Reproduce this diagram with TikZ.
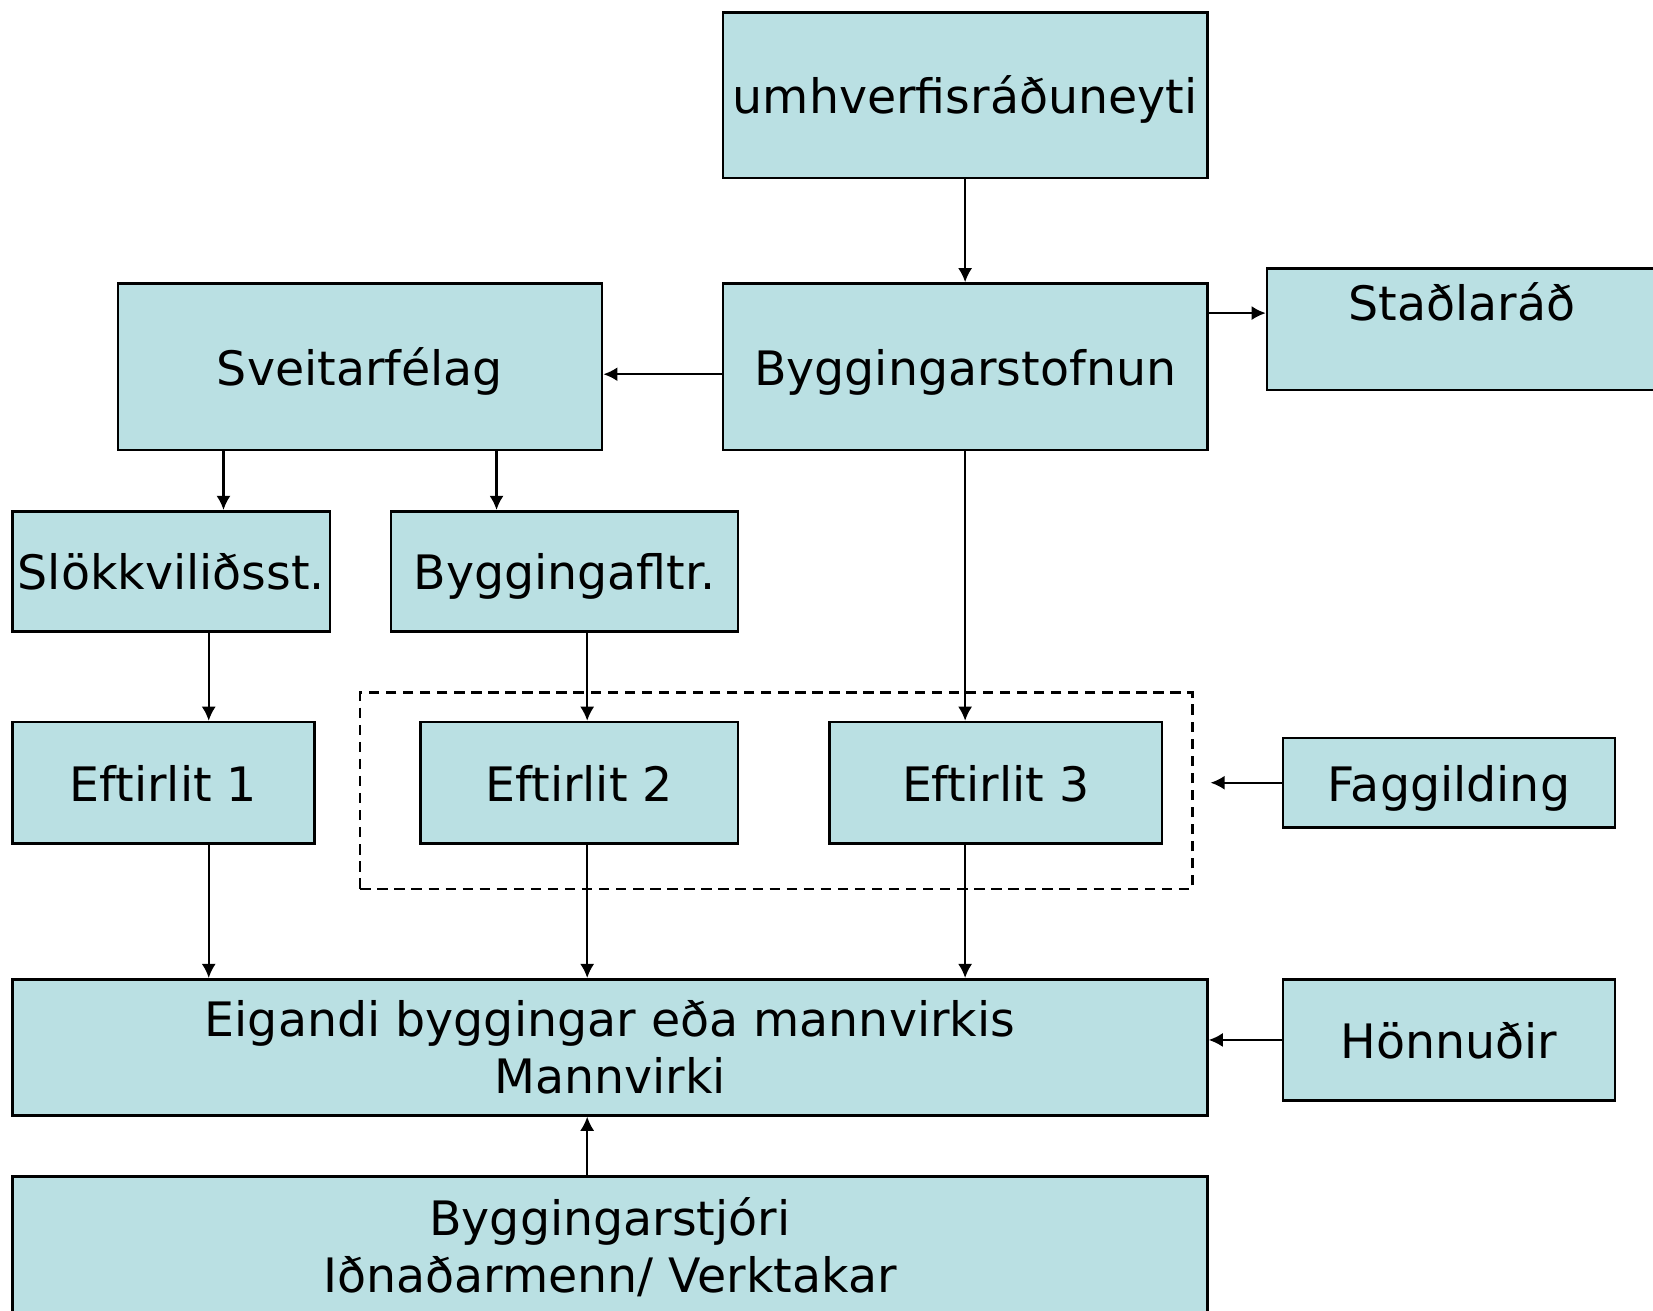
\documentclass[tikz,border=0pt]{standalone}
\usepackage{fontspec}
\setmainfont{DejaVu Sans}
\usepackage{tikz}
\usetikzlibrary{arrows.meta,positioning}
\definecolor{boxfill}{RGB}{186,224,227}

\begin{document}
\begin{tikzpicture}[x=0.01cm,y=-0.01cm,
    box/.style={draw, fill=boxfill, line width=0.7pt, rectangle, inner sep=0pt, align=center,
                font=\fontsize{12.8}{15.4}\selectfont},
    single/.style={box, text height=10pt, text depth=0pt},
    grp/.style={draw, dashed, dash pattern=on 2.8pt off 1.8pt, line width=0.6pt, rectangle, inner sep=0pt},
    arr/.style={-{Latex[length=3.8pt,width=3.8pt]}, line width=0.6pt}]
           \useasboundingbox (0,0) rectangle (1568,1243.5);
           \node[grp, minimum width=7.89cm, minimum height=1.86cm] (group) at (736.5,750) {};
           \node[single, minimum width=4.59cm, minimum height=1.57cm] (umh) at (915.5,90.5) {umhverfisráðuneyti};
           \node[single, minimum width=4.59cm, minimum height=1.58cm] (byst) at (915.5,348) {Byggingarstofnun};
           \node[single, minimum width=3.70cm, minimum height=1.15cm, text depth=15pt] (stad) at (1387,312.5) {Staðlaráð};
           \node[single, minimum width=4.59cm, minimum height=1.58cm] (sveit) at (341.5,348) {Sveitarfélag};
           \node[single, minimum width=3.01cm, minimum height=1.14cm] (slokk) at (162.5,542) {Slökkviliðsst.};
           \node[single, minimum width=3.29cm, minimum height=1.14cm] (byggf) at (535.5,542) {Byggingafltr.};
           \node[single, minimum width=2.86cm, minimum height=1.15cm] (eft1) at (155,742.5) {Eftirlit 1};
           \node[single, minimum width=3.01cm, minimum height=1.15cm] (eft2) at (549.5,742.5) {Eftirlit 2};
           \node[single, minimum width=3.15cm, minimum height=1.15cm] (eft3) at (944.5,742.5) {Eftirlit 3};
           \node[single, minimum width=3.15cm, minimum height=0.85cm] (fagg) at (1374.5,742.5) {Faggilding};
           \node[box, minimum width=11.33cm, minimum height=1.29cm] (eig) at (578.5,993.5) {Eigandi byggingar eða mannvirkis\\Mannvirki};
           \node[single, minimum width=3.15cm, minimum height=1.15cm] (honn) at (1374.5,986.5) {Hönnuðir};
           \node[box, minimum width=11.33cm, minimum height=1.34cm] (stjori) at (578.5,1183) {Byggingarstjóri\\Iðnaðarmenn/ Verktakar};
           % x and y of the connectors
           \coordinate (xa) at (212,0);
           \coordinate (xb) at (471,0);
           \coordinate (xc) at (198,0);
           \coordinate (xd) at (557,0);
           \coordinate (ya) at (0,297);
           \coordinate (yb) at (0,355);
           \path[arr]
            (umh) edge (byst)
            (byst.east |- ya) edge (stad.west |- ya)
            (byst.west |- yb) edge (sveit.east |- yb)
            (sveit.south -| xa) edge (slokk.north -| xa)
            (sveit.south -| xb) edge (byggf.north -| xb)
            (byst.south) edge (eft3.north -| byst.south)
            (slokk.south -| xc) edge (eft1.north -| xc)
            (byggf.south -| xd) edge (eft2.north -| xd)
            (eft1.south -| xc) edge (eig.north -| xc)
            (eft2.south -| xd) edge (eig.north -| xd)
            (eft3.south -| byst.south) edge (eig.north -| byst.south)
            (fagg.west) edge[shorten >=0.16cm] (group.east |- fagg.west)
            (honn.west) edge (eig.east |- honn.west)
            (stjori.north -| xd) edge (eig.south -| xd);
\end{tikzpicture}
\end{document}
